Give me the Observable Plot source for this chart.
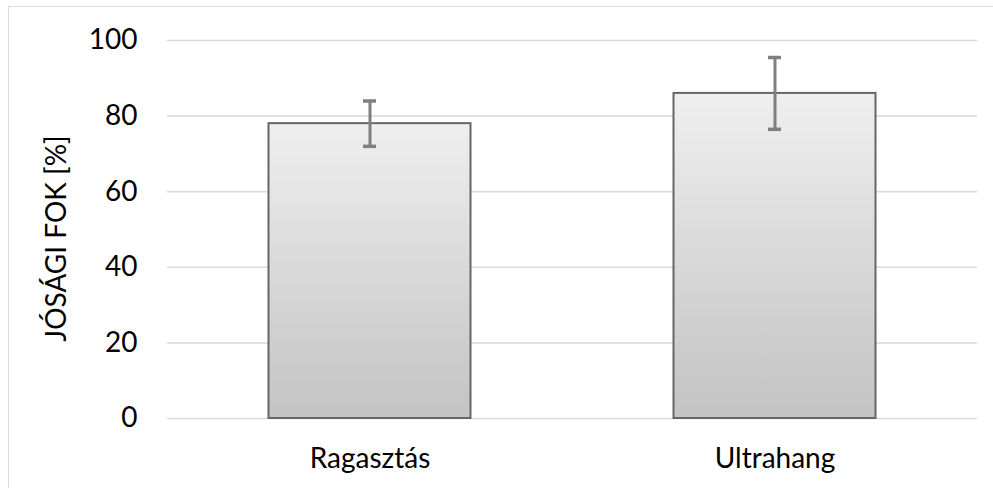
<!DOCTYPE html>
<html>
<head>
<meta charset="utf-8">
<script src="https://cdn.jsdelivr.net/npm/d3@7"></script>
<script src="https://cdn.jsdelivr.net/npm/@observablehq/plot@0.6"></script>
<style>
  html, body { margin: 0; padding: 0; background: #fff; overflow: hidden; }
  #wrap { position: relative; width: 993px; height: 488px; }
  #border { position: absolute; left: 8px; top: 6px; width: 1100px; height: 600px; border: 1.5px solid #d9d9d9; box-sizing: border-box; }
  #chart { position: absolute; left: 0; top: 0; }
</style>
</head>
<body>
<div id="wrap"><div id="border"></div><div id="chart"></div></div>
<script>
const categories = ["Ragasztás", "Ultrahang"];
const values = [78, 86];
const errors = [6, 9.5];
const yTicks = [0, 20, 40, 60, 80, 100];
const yLabel = "JÓSÁGI FOK [%]";

const data = categories.map((c, i) => ({cat: c, value: values[i], lo: values[i] - errors[i], hi: values[i] + errors[i]}));

const font = "Lato, 'Open Sans', sans-serif";

const plot = Plot.plot({
  width: 993,
  height: 488,
  marginLeft: 167,
  marginRight: 16,
  marginTop: 40,
  marginBottom: 70,
  style: {fontFamily: font, fontSize: "28px", color: "#000", background: "transparent"},
  x: {domain: categories, paddingInner: 0.5, paddingOuter: 0.25, label: null},
  y: {domain: [0, 100], ticks: yTicks, label: null},
  marks: [
    Plot.ruleY(yTicks, {stroke: "#d9d9d9", strokeWidth: 1.5, strokeOpacity: 1}),
    Plot.axisY({ticks: yTicks, tickSize: 0, tickPadding: 30, label: null, fontSize: 28}),
    Plot.axisX({tickSize: 0, tickPadding: 30, label: null, fontSize: 28}),
    Plot.barY(data, {x: "cat", y: "value", fill: "url(#barGrad)", stroke: "#666666", strokeWidth: 2, insetLeft: 0.5, insetRight: 0.5}),
    Plot.ruleX(data, {x: "cat", y1: "lo", y2: "hi", stroke: "#7f7f7f", strokeWidth: 3}),
    Plot.tickY(data, {x: "cat", y: "lo", stroke: "#7f7f7f", strokeWidth: 3.5, insetLeft: 95, insetRight: 95}),
    Plot.tickY(data, {x: "cat", y: "hi", stroke: "#7f7f7f", strokeWidth: 3.5, insetLeft: 95, insetRight: 95}),
    Plot.text([yLabel], {frameAnchor: "left", textAnchor: "middle", lineAnchor: "middle", dx: -110, dy: 9, rotate: -90, fontSize: 28, fill: "#000"})
  ]
});

const ns = "http://www.w3.org/2000/svg";
const defs = document.createElementNS(ns, "defs");
defs.innerHTML = `<linearGradient id="barGrad" x1="0" y1="0" x2="0" y2="1">
  <stop offset="0" stop-color="#efefef"/>
  <stop offset="1" stop-color="#c3c3c3"/>
</linearGradient>`;
plot.insertBefore(defs, plot.firstChild);
document.getElementById("chart").appendChild(plot);
</script>
</body>
</html>
